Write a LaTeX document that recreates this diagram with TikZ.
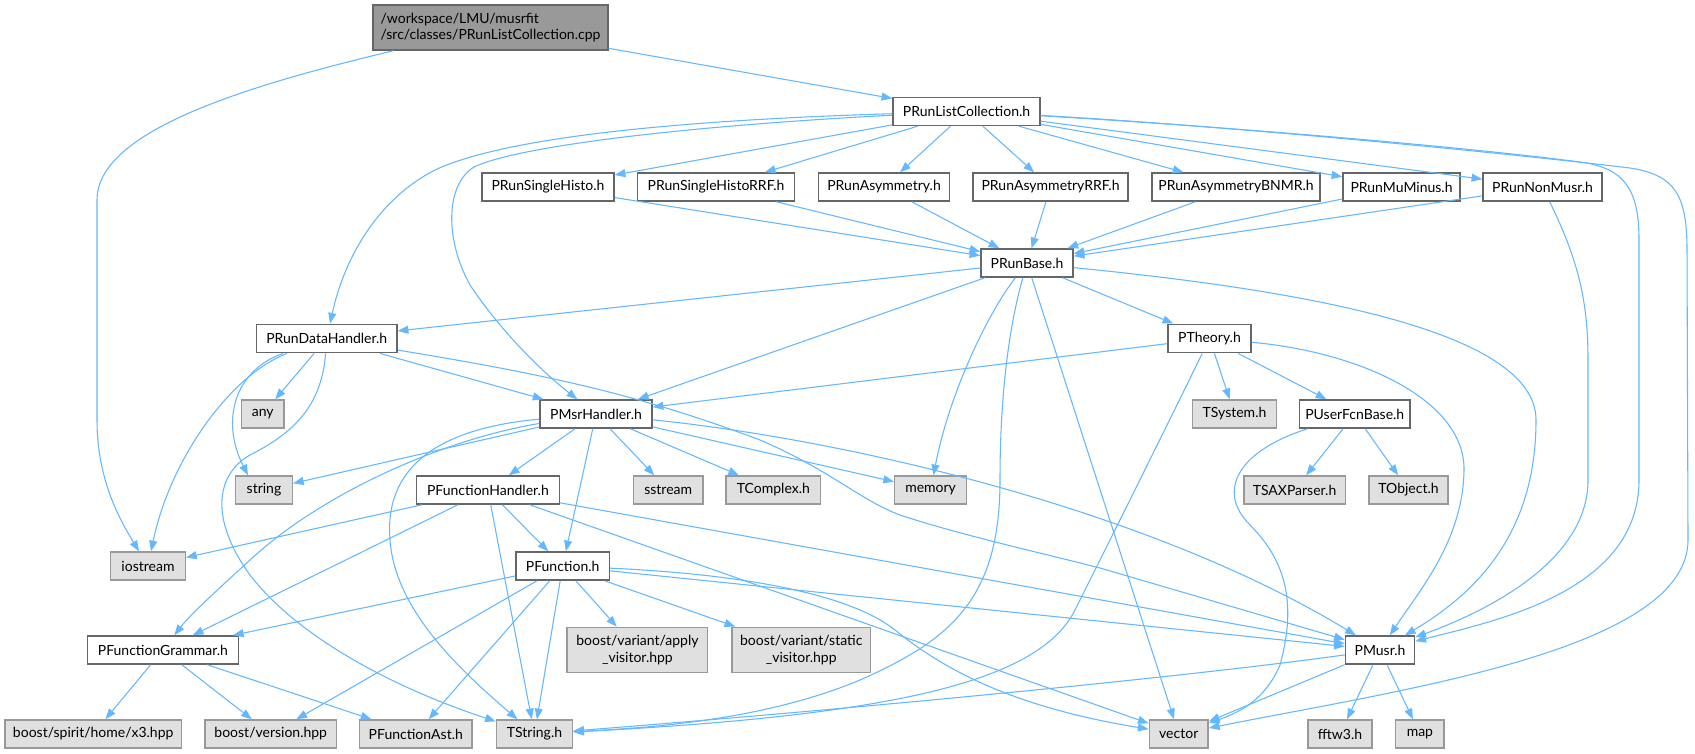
\documentclass[tikz,border=0pt]{standalone}
\usepackage{fontspec}
\setmainfont{Lato}
\usetikzlibrary{arrows.meta}
\definecolor{edgec}{HTML}{63B8FF}
\definecolor{bordc}{HTML}{666666}
\definecolor{gfill}{HTML}{E0E0E0}
\definecolor{gbord}{HTML}{999999}
\definecolor{rootf}{HTML}{999999}
\newdimen\pxu \pxu=0.75pt
\tikzset{
 box/.style={draw=bordc, fill=white, line width=1.1pt, inner sep=0pt, font=\fontsize{10.5}{12.6}\selectfont, text=black},
 sysbox/.style={box, draw=gbord, fill=gfill},
 rootbox/.style={box, fill=rootf, draw=bordc},
 e/.style={draw=edgec, line width=0.8pt, -{Triangle[length=8pt,width=6pt]}},
}
\newcommand\mk[7]{\node[#1,minimum width={#4*0.75pt},minimum height={#5*0.75pt}] (#6) at (#2,#3) {#7};}
\begin{document}
\begin{tikzpicture}[x=0.75pt,y=-0.75pt]
\fill[white] (0,0) rectangle (1695,753);
\useasboundingbox (0,0) rectangle (1695,753);
% nodes
\mk{rootbox,align=left}{490.5}{27.5}{235}{45}{root}{/workspace/LMU/musrfit\\/src/classes/PRunListCollection.cpp}
\mk{box}{966.5}{111.5}{147}{28}{prlc}{PRunListCollection.h}
\mk{box}{548}{187}{132}{28}{psh}{PRunSingleHisto.h}
\mk{box}{716}{187}{157}{28}{pshr}{PRunSingleHistoRRF.h}
\mk{box}{884}{187}{131}{28}{pasy}{PRunAsymmetry.h}
\mk{box}{1050.5}{187}{155}{28}{pasyr}{PRunAsymmetryRRF.h}
\mk{box}{1236}{187}{168}{28}{pbnmr}{PRunAsymmetryBNMR.h}
\mk{box}{1401.5}{187}{117}{28}{pmum}{PRunMuMinus.h}
\mk{box}{1542.5}{187}{119}{28}{pnon}{PRunNonMusr.h}
\mk{box}{1027}{263}{92}{28}{prb}{PRunBase.h}
\mk{box}{326.75}{338.5}{140.5}{28.5}{prdh}{PRunDataHandler.h}
\mk{box}{1209.5}{338.5}{83}{28.5}{pth}{PTheory.h}
\mk{sysbox}{262.75}{414}{42.5}{28}{any}{any}
\mk{box}{596}{414}{112}{28}{pmsr}{PMsrHandler.h}
\mk{sysbox}{1234.5}{414}{84}{28}{tsys}{TSystem.h}
\mk{box}{1354.75}{414}{110.5}{28}{pufb}{PUserFcnBase.h}
\mk{sysbox}{264}{490}{56.6}{28}{str}{string}
\mk{box}{487.9}{490}{142.8}{28}{pfh}{PFunctionHandler.h}
\mk{sysbox}{668.2}{490}{69.2}{28}{sst}{sstream}
\mk{sysbox}{773.35}{490}{94.7}{28}{tcx}{TComplex.h}
\mk{sysbox}{930.6}{490}{71.8}{28}{mem}{memory}
\mk{sysbox}{1294.55}{490}{101.5}{28}{tsax}{TSAXParser.h}
\mk{sysbox}{1408.5}{490}{79}{28}{tobj}{TObject.h}
\mk{sysbox}{148}{566}{74.6}{28}{ios}{iostream}
\mk{box}{562.65}{566}{93.3}{28}{pfn}{PFunction.h}
\mk{box}{162.85}{650}{151.1}{28}{pfg}{PFunctionGrammar.h}
\mk{sysbox,align=center}{637.45}{649.8}{140.5}{45}{bav}{boost/variant/apply\\\_visitor.hpp}
\mk{sysbox,align=center}{801.25}{649.8}{138.9}{45}{bsv}{boost/variant/static\\\_visitor.hpp}
\mk{box}{1380}{650}{69.1}{28}{pmu}{PMusr.h}
\mk{sysbox}{93.2}{734}{176.4}{28}{x3}{boost/spirit/home/x3.hpp}
\mk{sysbox}{270.75}{734}{131.3}{28}{bver}{boost/version.hpp}
\mk{sysbox}{415.8}{734}{112.2}{28}{past}{PFunctionAst.h}
\mk{sysbox}{534.5}{734}{76}{28}{tstr}{TString.h}
\mk{sysbox}{1178.75}{734}{58.9}{28}{vec}{vector}
\mk{sysbox}{1340}{734}{64.1}{28}{fftw}{fftw3.h}
\mk{sysbox}{1419.9}{734}{48.6}{28}{map}{map}
% edges: root
\draw[e] (root) -- (prlc);
\draw[e] (root) .. controls (250,85) and (97,130) .. (97,200) -- (97,420) .. controls (97,480) and (120,520) .. (ios);
% PRunListCollection.h
\draw[e] (prlc) .. controls (750,118) and (520,130) .. (435,170) .. controls (380,198) and (345,255) .. (prdh);
\draw[e] (prlc) .. controls (700,125) and (520,145) .. (474,167) .. controls (445,185) and (445,240) .. (470,285) .. controls (500,330) and (540,370) .. (pmsr);
\draw[e] (prlc) -- (psh);
\draw[e] (prlc) -- (pshr);
\draw[e] (prlc) -- (pasy);
\draw[e] (prlc) -- (pasyr);
\draw[e] (prlc) -- (pbnmr);
\draw[e] (prlc) -- (pmum);
\draw[e] (prlc) -- (pnon);
\draw[e] (prlc) .. controls (1200,125) and (1450,145) .. (1580,162) .. controls (1625,168) and (1639,190) .. (1639,240) -- (1639,480) .. controls (1639,590) and (1500,620) .. (pmu);
\draw[e] (prlc) .. controls (1200,124) and (1480,150) .. (1630,168) .. controls (1675,175) and (1687,195) .. (1687,250) -- (1688,540) .. controls (1688,650) and (1400,690) .. (vec);
% level 2 -> PRunBase
\draw[e] (psh) -- (prb);
\draw[e] (pshr) -- (prb);
\draw[e] (pasy) -- (prb);
\draw[e] (pasyr) -- (prb);
\draw[e] (pbnmr) -- (prb);
\draw[e] (pmum) -- (prb);
\draw[e] (pnon) -- (prb);
\draw[e] (pnon) .. controls (1578,260) and (1588,300) .. (1588,360) -- (1588,480) .. controls (1588,560) and (1490,610) .. (pmu);
% PRunBase.h
\draw[e] (prb) -- (prdh);
\draw[e] (prb) -- (pmsr);
\draw[e] (prb) .. controls (990,310) and (950,390) .. (mem);
\draw[e] (prb) .. controls (1008,330) and (1000,400) .. (1000,480) .. controls (1000,600) and (950,640) .. (860,680) .. controls (760,722) and (640,728) .. (tstr);
\draw[e] (prb) -- (vec);
\draw[e] (prb) -- (pth);
\draw[e] (prb) .. controls (1300,290) and (1536,330) .. (1536,420) .. controls (1536,520) and (1490,585) .. (pmu);
% PRunDataHandler.h
\draw[e] (prdh) -- (any);
\draw[e] (prdh) .. controls (235,370) and (220,420) .. ([xshift=13\pxu]str.north west);
\draw[e] (prdh) .. controls (230,375) and (170,460) .. (ios);
\draw[e] (prdh) .. controls (322,400) and (300,430) .. (250,455) .. controls (215,475) and (210,520) .. (250,575) .. controls (300,640) and (400,690) .. (tstr);
\draw[e] (prdh) -- (pmsr);
\draw[e] (prdh) .. controls (550,375) and (640,395) .. (760,440) .. controls (830,470) and (860,500) .. (900,515) .. controls (960,535) and (1050,555) .. (1100,568) -- (pmu);
% PTheory.h
\draw[e] (pth) -- (pmsr);
\draw[e] (pth) -- (tsys);
\draw[e] (pth) -- (pufb);
\draw[e] (pth) .. controls (1160,440) and (1100,560) .. (1075,610) .. controls (1040,680) and (900,715) .. (tstr);
\draw[e] (pth) .. controls (1360,352) and (1465,400) .. (1464,470) .. controls (1463,540) and (1420,590) .. (pmu);
% PUserFcnBase.h
\draw[e] (pufb) -- (tsax);
\draw[e] (pufb) -- (tobj);
\draw[e] (pufb) .. controls (1240,450) and (1215,490) .. (1250,525) .. controls (1290,565) and (1295,610) .. (1280,665) .. controls (1265,700) and (1240,712) .. (vec);
% PMsrHandler.h
\draw[e] (pmsr) -- (str);
\draw[e] (pmsr) .. controls (440,440) and (320,495) .. (250,560) .. controls (215,592) and (190,615) .. (pfg);
\draw[e] (pmsr) .. controls (420,430) and (385,480) .. (390,540) .. controls (395,610) and (460,670) .. (tstr);
\draw[e] (pmsr) -- (pfh);
\draw[e] (pmsr) -- (pfn);
\draw[e] (pmsr) -- (sst);
\draw[e] (pmsr) -- (tcx);
\draw[e] (pmsr) -- (mem);
\draw[e] (pmsr) .. controls (850,440) and (1150,510) .. (pmu);
% PFunctionHandler.h
\draw[e] (pfh) -- (ios);
\draw[e] (pfh) -- (pfg);
\draw[e] (pfh) -- (pfn);
\draw[e] (pfh) -- (tstr);
\draw[e] (pfh) -- (vec);
\draw[e] (pfh) -- (pmu);
% PFunction.h
\draw[e] (pfn) -- (pfg);
\draw[e] (pfn) -- (bver);
\draw[e] (pfn) -- (past);
\draw[e] (pfn) -- (tstr);
\draw[e] (pfn) -- (bav);
\draw[e] (pfn) -- (bsv);
\draw[e] (pfn) .. controls (760,575) and (855,598) .. (895,630) .. controls (935,662) and (1000,705) .. (vec);
\draw[e] (pfn) -- (pmu);
% PFunctionGrammar.h
\draw[e] (pfg) -- (x3);
\draw[e] (pfg) -- (bver);
\draw[e] (pfg) -- (past);
% PMusr.h
\draw[e] (pmu) .. controls (1200,675) and (900,705) .. (tstr);
\draw[e] (pmu) -- (vec);
\draw[e] (pmu) -- (fftw);
\draw[e] (pmu) -- (map);
\end{tikzpicture}
\end{document}
